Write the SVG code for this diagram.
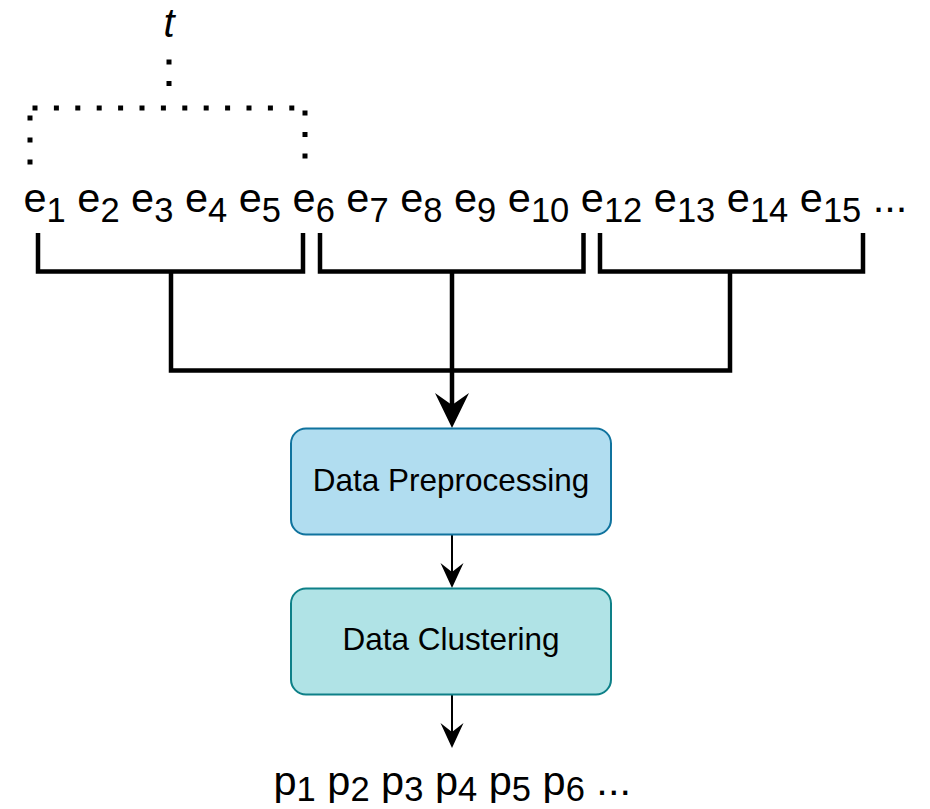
<svg xmlns="http://www.w3.org/2000/svg" width="930" height="809" viewBox="0 0 930 809">
<style>
.txt{font-family:"Liberation Sans",Arial,sans-serif;fill:#000}
.seq{font-size:41.5px}
.sb{font-size:34.5px}
.lbl{font-size:31.5px;text-anchor:middle}
.dot{fill:none;stroke:#000;stroke-width:5;stroke-linecap:butt}
.brk{fill:none;stroke:#000;stroke-width:4.5;stroke-linejoin:miter;stroke-linecap:butt}
.thin{fill:none;stroke:#000;stroke-width:2}
.box1{fill:#b1ddf0;stroke:#10739e;stroke-width:2}
.box2{fill:#b0e3e6;stroke:#0e8088;stroke-width:2}
</style>
<defs>
<marker id="bigArrow" markerUnits="userSpaceOnUse" markerWidth="36" markerHeight="36" refX="12" refY="17" orient="auto" overflow="visible">
<path d="M0,0 L35,17 L0,34 L12,17 Z" fill="#000"/>
</marker>
<marker id="smallArrow" markerUnits="userSpaceOnUse" markerWidth="26" markerHeight="24" refX="9" refY="11.5" orient="auto" overflow="visible">
<path d="M0,0 L25,11.5 L0,23 L9,11.5 Z" fill="#000"/>
</marker>
</defs>

<g id="connectors">
<g id="dotted-window">
<path class="dot" d="M169,59.5 V88" stroke-dasharray="5 16.4"/>
<path class="dot" d="M32.5,108 H295" stroke-dasharray="5 16.4"/>
<path class="dot" d="M30,115.5 V166" stroke-dasharray="5 17"/>
<path class="dot" d="M305,110.5 V160" stroke-dasharray="5 16.5"/>
</g>
<path id="bracket1" class="brk" d="M38,233 V271.5 H303 V233"/>
<path id="bracket2" class="brk" d="M320,233 V271.5 H583.5 V233"/>
<path id="bracket3" class="brk" d="M600,233 V271.5 H863 V233"/>
<path id="merge" class="brk" d="M171,271.5 V370.5 H730 V271.5"/>
<path id="to-preprocessing" class="brk" d="M452,271.5 V405" marker-end="url(#bigArrow)"/>
<path id="to-clustering" class="thin" d="M452,535 V572" marker-end="url(#smallArrow)"/>
<path id="to-output" class="thin" d="M452,695 V732" marker-end="url(#smallArrow)"/>
</g>

<g id="label-t">
<text class="txt" x="169" y="37" text-anchor="middle" font-style="italic" font-size="40">t</text>
</g>

<g id="event-sequence">
<text class="txt seq" x="23.5" y="212">e<tspan class="sb" dy="10">1</tspan><tspan dy="-10"> e</tspan><tspan class="sb" dy="10">2</tspan><tspan dy="-10"> e</tspan><tspan class="sb" dy="10">3</tspan><tspan dy="-10"> e</tspan><tspan class="sb" dy="10">4</tspan><tspan dy="-10"> e</tspan><tspan class="sb" dy="10">5</tspan><tspan dy="-10"> e</tspan><tspan class="sb" dy="10">6</tspan><tspan dy="-10"> e</tspan><tspan class="sb" dy="10">7</tspan><tspan dy="-10"> e</tspan><tspan class="sb" dy="10">8</tspan><tspan dy="-10"> e</tspan><tspan class="sb" dy="10">9</tspan><tspan dy="-10"> e</tspan><tspan class="sb" dy="10">10</tspan><tspan dy="-10"> e</tspan><tspan class="sb" dy="10">12</tspan><tspan dy="-10"> e</tspan><tspan class="sb" dy="10">13</tspan><tspan dy="-10"> e</tspan><tspan class="sb" dy="10">14</tspan><tspan dy="-10"> e</tspan><tspan class="sb" dy="10">15</tspan><tspan dy="-10"> ...</tspan></text>
</g>

<g id="data-preprocessing">
<rect class="box1" x="291" y="428.5" width="320" height="106" rx="15" ry="15"/>
<text class="txt lbl" x="451" y="491">Data Preprocessing</text>
</g>

<g id="data-clustering">
<rect class="box2" x="291" y="588.5" width="320" height="106" rx="15" ry="15"/>
<text class="txt lbl" x="451" y="650">Data Clustering</text>
</g>

<g id="pattern-sequence">
<text class="txt seq" x="273.5" y="795">p<tspan class="sb" dy="6">1</tspan><tspan dy="-6"> p</tspan><tspan class="sb" dy="6">2</tspan><tspan dy="-6"> p</tspan><tspan class="sb" dy="6">3</tspan><tspan dy="-6"> p</tspan><tspan class="sb" dy="6">4</tspan><tspan dy="-6"> p</tspan><tspan class="sb" dy="6">5</tspan><tspan dy="-6"> p</tspan><tspan class="sb" dy="6">6</tspan><tspan dy="-6"> ...</tspan></text>
</g>
</svg>
